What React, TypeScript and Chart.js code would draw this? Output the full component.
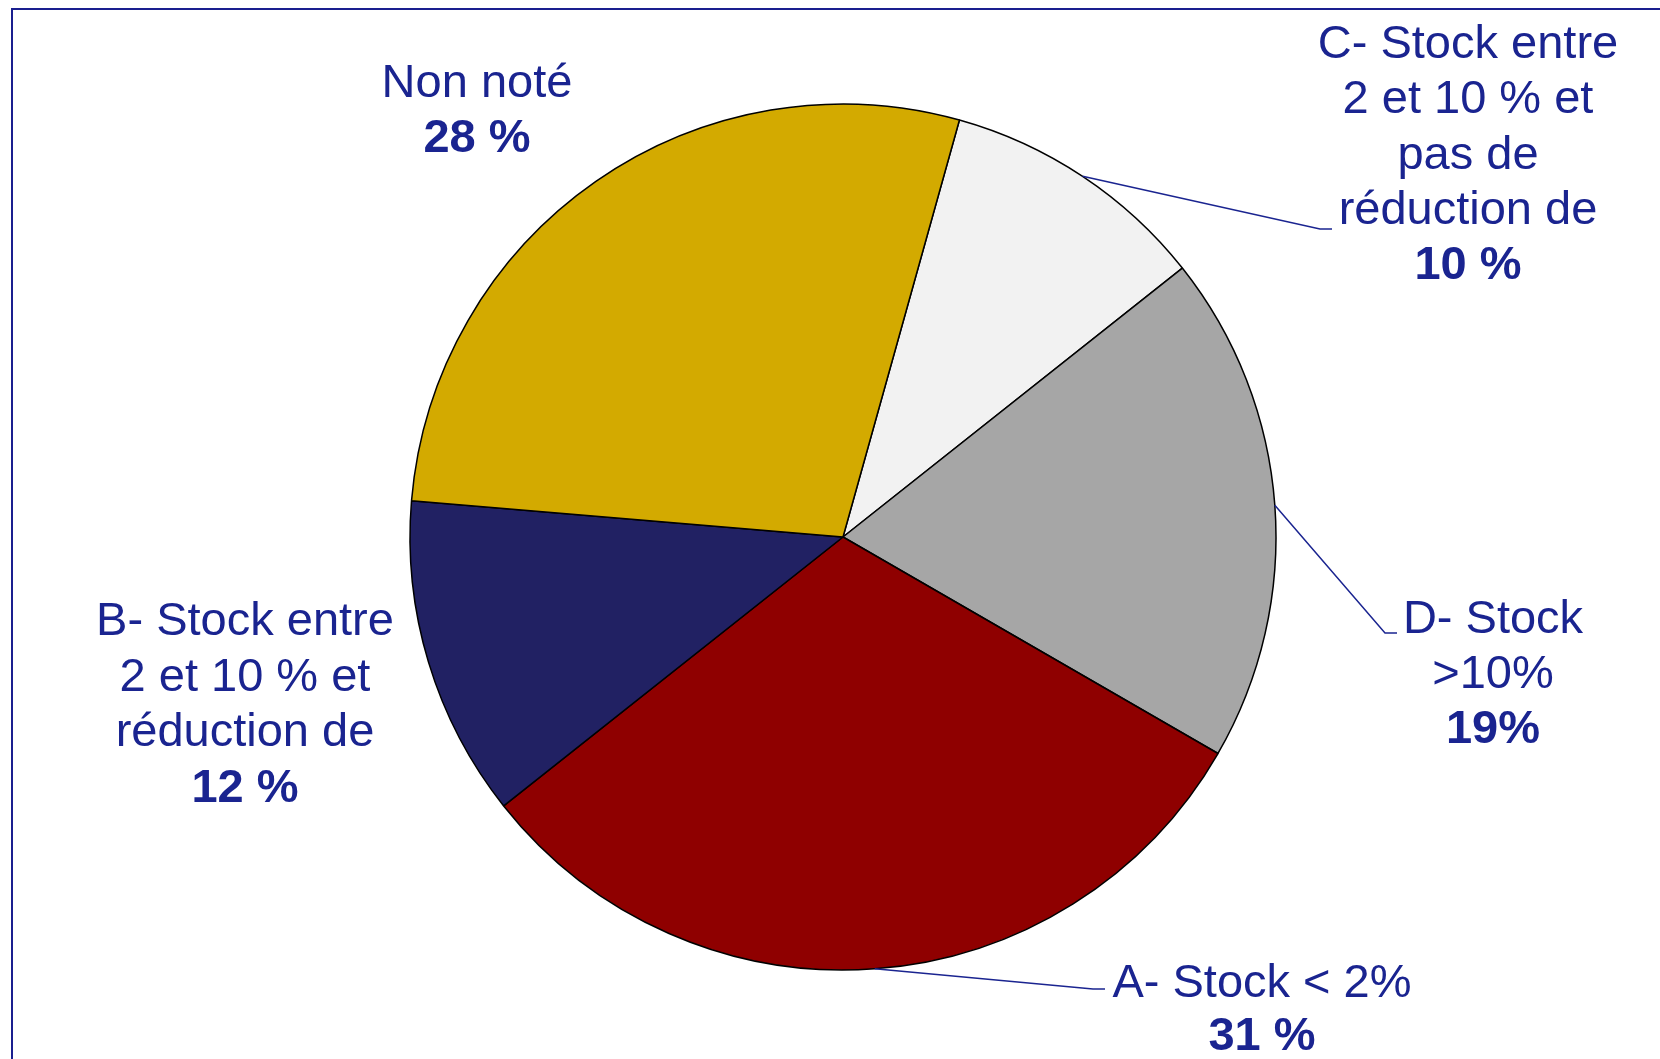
import React, { useEffect, useRef } from "react";
import { Chart, registerables } from "chart.js";

Chart.register(...registerables);

// ---- Data ----
const categories = [
  "C- Stock entre 2 et 10 % et pas de réduction de",
  "D- Stock >10%",
  "A- Stock < 2%",
  "B- Stock entre 2 et 10 % et réduction de",
  "Non noté",
];
const shares = [10, 19, 31, 12, 28];
const shareLabels = ["10 %", "19%", "31 %", "12 %", "28 %"];
const labelLines = [
  ["C- Stock entre", "2 et 10 % et", "pas de", "réduction de"],
  ["D- Stock", ">10%"],
  ["A- Stock < 2%"],
  ["B- Stock entre", "2 et 10 % et", "réduction de"],
  ["Non noté"],
];

// ---- Styles / layout ----
const sliceColors = ["#F2F2F2", "#A6A6A6", "#8F0000", "#212163", "#D3AA00"];
const textColor = "#1A2490";
const fontFamily = "'Liberation Sans', Arial, Helvetica, sans-serif";
const fontSize = 47;

type LabelLayout = { cx: number; y: number; lh: number; elbow?: [number, number]; end?: [number, number] };
const labelLayout: LabelLayout[] = [
  { cx: 1468, y: 58, lh: 55.3, elbow: [1320, 229], end: [1332, 229] },
  { cx: 1493, y: 633, lh: 55, elbow: [1385, 633], end: [1397, 633] },
  { cx: 1262, y: 997, lh: 53, elbow: [1093, 989], end: [1105, 989] },
  { cx: 245, y: 635, lh: 55.5 },
  { cx: 477, y: 97, lh: 55 },
];

const labelPlugin = {
  id: "pieLabels",
  afterDraw(chart: any) {
    const ctx = chart.ctx;
    const meta = chart.getDatasetMeta(0);
    ctx.save();
    // frame
    ctx.strokeStyle = "#1A1F8F";
    ctx.lineWidth = 2;
    ctx.beginPath();
    ctx.moveTo(12, chart.height + 5);
    ctx.lineTo(12, 9);
    ctx.lineTo(chart.width + 5, 9);
    ctx.stroke();

    meta.data.forEach((arc: any, i: number) => {
      const L = labelLayout[i];
      if (L.elbow && L.end) {
        const mid = (arc.startAngle + arc.endAngle) / 2;
        const sx = arc.x + Math.cos(mid) * arc.outerRadius;
        const sy = arc.y + Math.sin(mid) * arc.outerRadius;
        ctx.strokeStyle = textColor;
        ctx.lineWidth = 1.5;
        ctx.beginPath();
        ctx.moveTo(sx, sy);
        ctx.lineTo(L.elbow[0], L.elbow[1]);
        ctx.lineTo(L.end[0], L.end[1]);
        ctx.stroke();
      }
      ctx.fillStyle = textColor;
      ctx.textAlign = "center";
      ctx.textBaseline = "alphabetic";
      const lines = labelLines[i];
      ctx.font = `normal ${fontSize}px ${fontFamily}`;
      lines.forEach((t, k) => ctx.fillText(t, L.cx, L.y + k * L.lh));
      ctx.font = `bold ${fontSize}px ${fontFamily}`;
      ctx.fillText(shareLabels[i], L.cx, L.y + lines.length * L.lh);
    });
    ctx.restore();
  },
};

export default function App() {
  const ref = useRef<HTMLCanvasElement | null>(null);
  useEffect(() => {
    if (!ref.current) return;
    const chart = new Chart(ref.current, {
      type: "pie",
      data: {
        labels: categories,
        datasets: [
          {
            data: shares,
            backgroundColor: sliceColors,
            borderColor: "#000000",
            borderWidth: 1.5,
            radius: 433,
          } as any,
        ],
      },
      options: {
        animation: false,
        responsive: false,
        rotation: 15.6,
        layout: { padding: { left: 26, top: 15, right: 0, bottom: 0 } },
        plugins: {
          legend: { display: false },
          tooltip: { enabled: false },
        },
      },
      plugins: [labelPlugin],
    });
    return () => chart.destroy();
  }, []);
  return (
    <div style={{ position: "fixed", left: 0, top: 0, width: 1660, height: 1059, background: "#fff" }}>
      <canvas ref={ref} width={1660} height={1059} style={{ width: 1660, height: 1059, display: "block" }} />
    </div>
  );
}
